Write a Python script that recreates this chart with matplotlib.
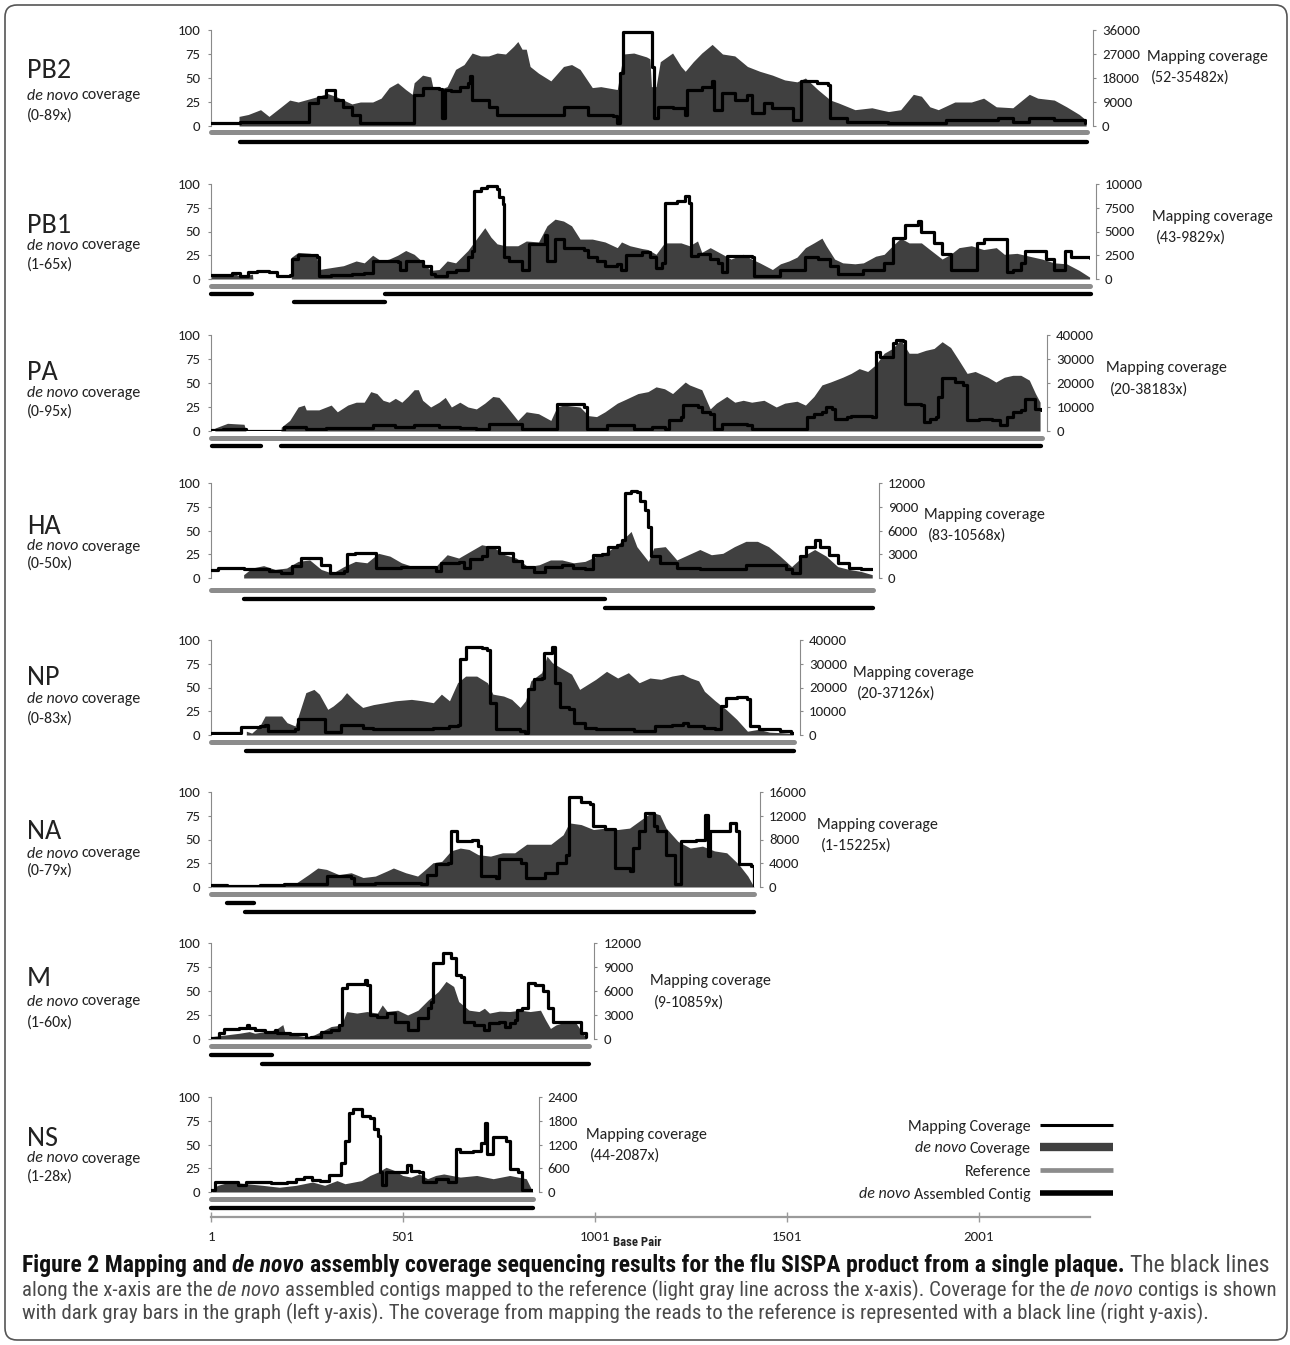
import matplotlib
matplotlib.use("Agg")
import matplotlib.pyplot as plt
from matplotlib import font_manager as fm
from matplotlib.patches import FancyBboxPatch
from matplotlib.lines import Line2D
from matplotlib.transforms import IdentityTransform

# ---------------------------------------------------------------- data
SEGMENTS = ["PB2", "PB1", "PA", "HA", "NP", "NA", "M", "NS"]
SEG_LEN = [2283, 2290, 2164, 1725, 1520, 1416, 985, 840]
DENOVO_RANGE = ["(0-89x)", "(1-65x)", "(0-95x)", "(0-50x)", "(0-83x)", "(0-79x)", "(1-60x)", "(1-28x)"]
MAP_RANGE = ["(52-35482x)", "(43-9829x)", "(20-38183x)", "(83-10568x)", "(20-37126x)",
             "(1-15225x)", "(9-10859x)", "(44-2087x)"]
MAP_MAX = [36000, 10000, 40000, 12000, 40000, 16000, 12000, 2400]
DENOVO_TICKS = [0, 25, 50, 75, 100]
X_TICKS = [1, 501, 1001, 1501, 2001]

# de novo coverage (base pair, coverage x) -- left axis
PB2_DENOVO = [(74,10),(98,12),(130,17),(152,10),(184,20),(206,27),(228,25),(255,28),(282,31),(303,34),(325,31),(346,27),(368,23),(390,25),(422,25),(444,29),(465,40),(487,45),(508,38),(525,33),(530,45),(552,53),(573,51),(579,40),(595,38),(616,41),(638,59),(660,64),(681,76),(703,73),(724,73),(746,76),(768,75),(789,83),(800,88),(811,80),(822,80),(832,62),(854,55),(886,47),(919,62),(940,64),(962,59),(994,40),(1016,41),(1059,38),(1075,75),(1102,76),(1135,72),(1144,70),(1148,41),(1160,41),(1171,67),(1203,76),(1225,62),(1236,57),(1257,67),(1279,76),(1306,85),(1333,75),(1365,73),(1398,62),(1430,57),(1463,53),(1495,48),(1527,46),(1549,50),(1581,38),(1614,27),(1635,24),(1678,17),(1722,19),(1765,15),(1797,17),(1830,33),(1851,31),(1873,20),(1895,17),(1938,25),(1981,25),(2013,29),(2046,20),(2089,19),(2132,33),(2154,29),(2197,27),(2229,20),(2262,12),(2280,6)]
PB1_DENOVO = [(1,3),(33,4),(60,6),(76,3),(109,5),(110,0),(210,0),(211,23),(228,28),(260,27),(276,25),(282,10),(314,12),(346,14),(379,19),(400,17),(422,25),(444,19),(465,21),(487,25),(508,30),(530,26),(552,18),(573,9),(595,10),(616,19),(638,17),(670,30),(692,42),(714,54),(730,44),(746,37),(768,35),(800,35),(822,40),(854,39),(876,56),(897,63),(919,61),(940,56),(962,42),(994,42),(1027,39),(1059,33),(1070,39),(1092,35),(1124,32),(1139,31),(1160,26),(1182,38),(1225,38),(1247,35),(1268,40),(1279,28),(1301,33),(1333,26),(1355,21),(1387,26),(1409,21),(1430,17),(1463,10),(1484,16),(1506,19),(1527,23),(1549,33),(1571,38),(1592,43),(1603,35),(1625,21),(1646,17),(1678,16),(1700,17),(1732,24),(1754,26),(1776,35),(1797,43),(1819,38),(1851,38),(1873,31),(1905,21),(1927,26),(1949,33),(1981,35),(2013,31),(2046,33),(2067,26),(2100,27),(2132,24),(2165,21),(2197,17),(2229,16),(2262,9),(2289,2)]
PA_DENOVO = [(11,3),(44,8),(87,7),(92,0),(183,0),(184,4),(206,11),(228,25),(244,27),(249,22),(282,22),(314,27),(330,20),(357,27),(379,30),(400,30),(417,41),(433,39),(449,32),(465,30),(481,34),(498,30),(514,36),(530,43),(541,43),(552,32),(573,25),(595,30),(611,35),(627,25),(649,30),(670,25),(692,23),(714,29),(735,36),(751,35),(768,27),(800,11),(822,20),(854,18),(886,11),(902,25),(919,27),(962,25),(984,16),(1005,15),(1027,20),(1059,29),(1081,33),(1113,39),(1139,41),(1160,46),(1182,44),(1203,39),(1236,51),(1247,48),(1279,43),(1301,23),(1317,29),(1344,36),(1365,30),(1387,32),(1409,30),(1441,32),(1473,25),(1495,29),(1527,31),(1549,27),(1571,36),(1592,48),(1614,51),(1646,56),(1668,60),(1689,65),(1711,62),(1732,69),(1754,81),(1776,86),(1797,95),(1819,81),(1840,81),(1862,84),(1884,86),(1905,93),(1927,87),(1948,74),(1970,60),(1991,62),(2024,56),(2045,51),(2067,56),(2089,58),(2110,58),(2132,53),(2148,39),(2160,30)]
HA_DENOVO = [(86,3.5),(108,10.5),(138,13),(168,9),(198,10.5),(228,17.5),(258,19),(288,9),(317,5),(347,12),(377,17.5),(407,16),(437,26),(467,23),(497,16),(527,12),(557,10.5),(586,12),(616,24.5),(646,21),(676,28),(706,35),(736,32.6),(766,24.5),(796,21),(826,12),(856,14),(885,19),(915,19),(945,16),(975,17.5),(1005,23),(1035,28),(1065,37),(1095,49),(1110,33),(1140,17.5),(1154,31.6),(1184,33),(1214,19),(1244,24.5),(1274,30),(1304,24.5),(1334,26),(1364,33),(1394,38.6),(1424,38.6),(1453,33),(1483,23),(1513,12),(1543,23),(1573,30),(1603,23),(1633,12),(1663,9),(1693,7),(1723,3.5)]
NP_DENOVO = [(93,4),(107,2),(128,9.5),(142,20),(185,20),(199,13),(220,9.5),(234,27),(248,44.6),(269,48),(283,43),(305,27),(319,30.5),(340,37.5),(354,44.6),(375,36),(396,29),(424,32),(453,34),(481,36),(523,37.5),(552,36),(580,34),(601,43),(622,36),(643,55),(664,62),(693,62),(721,55),(735,43),(763,41),(784,37.5),(806,29),(820,36),(834,57),(862,65.6),(876,83),(890,76),(919,69),(940,64),(961,48),(1003,58.6),(1031,67),(1060,60),(1088,65.6),(1116,55),(1144,60),(1173,58.6),(1201,62),(1229,64),(1250,60),(1271,57),(1286,46),(1314,36),(1342,27),(1370,16.5),(1398,4),(1427,6),(1455,3),(1483,2.5),(1511,1.7),(1518,0)]
NA_DENOVO = [(3,1),(176,3),(224,4.5),(255,13),(279,20),(302,18.5),(334,13),(366,15),(397,10),(429,11.5),(460,17),(476,20),(508,15),(539,11.5),(555,17),(579,25.5),(602,27),(626,38),(650,41),(673,39.5),(697,34),(729,32.5),(760,36),(792,36),(823,45),(855,45),(886,45),(918,55),(934,67.5),(965,65.7),(997,60.5),(1028,62),(1060,60.5),(1091,62),(1115,69),(1139,76),(1154,78),(1170,76),(1186,62),(1217,48),(1249,41),(1281,43),(1312,38),(1344,36),(1375,24),(1399,11.5),(1415,0)]
M_DENOVO = [(1,2.4),(35,4),(75,6),(101,7.7),(115,6),(141,7.7),(168,9.4),(188,15),(194,6),(221,4),(248,2.4),(268,4),(288,7.7),(314,13),(341,14.6),(354,28.6),(381,27),(407,28.6),(434,27),(447,35.5),(460,28.6),(487,30),(513,25),(540,30),(567,40.8),(593,49.5),(613,60),(633,54.7),(646,39),(673,30),(699,28.6),(713,32),(726,27),(752,29),(779,28.6),(806,30),(832,28.6),(859,30),(872,20),(885,11),(899,14.6),(925,18),(952,16.4),(978,0.7)]
NS_DENOVO = [(3,1.7),(18,7),(50,10.5),(93,8.7),(136,7),(179,5),(222,7),(265,10.5),(297,7),(329,12),(350,8.7),(393,12),(415,17.4),(436,21),(457,26),(479,22.6),(500,17.4),(522,15.7),(543,19),(565,14),(586,17.4),(607,19),(650,15.7),(693,17.4),(736,14),(779,17.4),(822,14),(839,0)]

# mapping coverage (base pair, coverage x) -- right axis
PB2_MAP = [(1,1000),(74,1000),(76,1600),(254,1600),(256,8500),(280,11000),(300,13500),(314,13500),(325,9800),(346,7300),(368,4000),(390,1250),(470,1000),(519,1250),(530,11700),(552,14200),(595,14000),(602,3000),(611,13600),(627,13000),(649,14800),(670,16000),(676,18900),(681,9800),(724,7300),(746,4150),(897,4150),(919,7300),(962,7000),(984,4150),(1048,3800),(1059,1260),(1065,20000),(1075,35400),(1144,35300),(1150,22000),(1155,2900),(1166,7300),(1203,6700),(1236,4150),(1241,13600),(1280,14500),(1306,16700),(1311,6000),(1333,12300),(1365,9800),(1398,11700),(1409,4800),(1441,8500),(1463,6700),(1506,6700),(1517,2260),(1538,16700),(1580,16200),(1608,15500),(1614,2900),(1657,1640),(1765,1000),(1916,2260),(2002,2260),(2050,2900),(2089,1500),(2132,2900),(2197,2260),(2278,1000)]
PB1_MAP = [(1,400),(33,400),(55,600),(76,350),(98,700),(120,800),(152,700),(174,350),(206,400),(211,2100),(228,2500),(276,2300),(282,350),(314,450),(368,500),(400,600),(422,1900),(487,1800),(492,900),(508,1900),(530,1900),(552,1400),(573,500),(584,350),(616,700),(638,1000),(670,2300),(681,3000),(687,9300),(703,9600),(719,9800),(746,9500),(751,8600),(762,7900),(764,2300),(778,1900),(811,900),(827,900),(830,3700),(865,3700),(870,4600),(876,1900),(897,4200),(919,3300),(973,3100),(984,2300),(1005,1900),(1027,1400),(1059,1600),(1070,1000),(1081,2500),(1113,2500),(1124,2800),(1143,2300),(1160,1200),(1176,1700),(1182,8000),(1214,8200),(1236,8700),(1247,8000),(1252,2400),(1268,2600),(1301,2100),(1322,1700),(1333,700),(1344,2400),(1409,2300),(1414,350),(1463,350),(1484,900),(1527,1000),(1549,2300),(1581,2100),(1614,1400),(1635,500),(1678,500),(1700,1000),(1732,1000),(1754,1700),(1776,4300),(1792,4300),(1808,5700),(1830,5700),(1841,6100),(1851,4900),(1873,4900),(1884,3800),(1905,2600),(1927,1000),(1981,1000),(1997,3800),(2013,4200),(2067,4200),(2073,700),(2089,900),(2111,1700),(2121,3000),(2165,3000),(2175,2100),(2197,1000),(2218,1000),(2224,3000),(2240,2300),(2289,2200)]
PA_MAP = [(1,500),(11,560),(33,1000),(87,1000),(92,20),(183,20),(190,1700),(249,1000),(300,1200),(379,1400),(422,2400),(480,1700),(530,2400),(595,1700),(649,1400),(692,1000),(719,1000),(724,3100),(800,2800),(811,1000),(897,1000),(902,11400),(940,11100),(973,10000),(979,1000),(1027,1000),(1032,2400),(1092,2400),(1103,1000),(1149,1700),(1182,1000),(1193,4500),(1225,5800),(1230,10700),(1268,10000),(1279,8000),(1301,7200),(1311,1000),(1333,3100),(1398,2400),(1409,1000),(1549,1000),(1554,5800),(1571,7200),(1592,8000),(1603,10000),(1619,9300),(1625,5200),(1657,5800),(1668,6200),(1722,5800),(1733,33000),(1743,31000),(1765,31000),(1776,36500),(1786,38000),(1803,37500),(1808,11400),(1851,11000),(1857,3800),(1873,5200),(1889,5800),(1895,14200),(1905,21900),(1938,20500),(1959,19000),(1970,4500),(2002,5200),(2035,4500),(2056,2400),(2073,5800),(2089,8000),(2110,8600),(2121,13500),(2132,13500),(2148,9300),(2162,8600)]
HA_MAP = [(1,1050),(18,1260),(63,1260),(86,1080),(153,920),(183,640),(213,1560),(235,2520),(258,2520),(288,1680),(310,640),(347,840),(355,3070),(377,3120),(422,3120),(430,1260),(497,1390),(557,1390),(586,840),(601,1920),(646,1980),(661,1260),(676,2400),(706,2760),(721,3910),(751,3120),(788,2100),(811,1440),(841,720),(870,1440),(915,1680),(945,1260),(975,1080),(997,2940),(1020,3000),(1035,3910),(1057,4200),(1072,4800),(1080,10700),(1095,11000),(1110,10900),(1117,9680),(1132,8640),(1140,6480),(1147,2760),(1170,1920),(1214,1260),(1274,1080),(1334,1080),(1394,1680),(1453,1680),(1498,1080),(1513,640),(1536,2760),(1550,3960),(1573,4800),(1588,3960),(1610,2940),(1633,1920),(1663,1260),(1693,1080),(1723,1080)]
NP_MAP = [(1,1000),(72,1000),(79,3500),(128,3800),(142,4100),(149,1700),(185,1700),(220,2400),(227,6600),(262,6800),(290,6600),(297,1200),(326,1200),(340,4100),(382,4100),(396,3100),(424,2400),(467,2600),(523,2400),(580,3100),(622,3800),(643,4400),(650,31800),(664,37000),(693,37100),(707,36500),(721,36000),(728,13600),(742,2400),(806,1700),(820,1000),(827,19200),(841,23400),(862,24000),(869,34700),(890,37100),(897,22000),(911,11600),(933,10800),(947,5200),(975,3100),(1003,2400),(1102,1700),(1158,3800),(1201,4400),(1229,5200),(1243,3800),(1286,3100),(1314,2400),(1328,12200),(1342,15600),(1370,15900),(1398,15000),(1405,3800),(1427,2400),(1483,1700),(1511,1000),(1518,800)]
NA_MAP = [(1,320),(42,160),(129,270),(192,560),(255,560),(302,1840),(366,1570),(373,560),(429,720),(508,720),(547,560),(563,2080),(586,3800),(618,4080),(626,9400),(642,7680),(681,8000),(697,6880),(705,1840),(744,1570),(752,4640),(807,4080),(822,1570),(870,2400),(902,4080),(926,5440),(934,15200),(965,14400),(989,13900),(997,10240),(1028,9840),(1052,3200),(1091,2690),(1099,6560),(1115,9390),(1131,12480),(1154,10240),(1162,9390),(1186,5440),(1210,450),(1225,7680),(1265,8000),(1281,8000),(1288,12160),(1296,5200),(1300,9390),(1344,9390),(1352,10800),(1367,9390),(1375,3800),(1407,3520),(1412,3500),(1415,16)]
M_MAP = [(1,80),(16,50),(22,720),(35,1260),(75,1320),(95,1800),(101,1320),(115,1130),(141,920),(168,1130),(174,720),(208,640),(248,80),(261,290),(288,920),(314,1130),(334,1750),(341,6360),(354,6840),(394,6840),(401,7400),(407,6770),(414,3000),(434,2760),(460,3240),(480,2160),(513,1130),(540,2590),(567,3840),(573,4680),(580,9480),(606,10740),(626,10080),(640,8040),(653,7800),(659,2160),(686,1750),(713,1130),(726,1970),(752,2160),(766,1560),(779,1970),(792,2400),(799,3600),(812,3840),(826,6960),(846,6770),(866,5940),(879,3840),(892,2160),(912,2160),(952,2160),(965,720),(978,290)]
NS_MAP = [(1,44),(12,250),(50,250),(72,170),(93,250),(136,265),(157,240),(179,240),(200,265),(222,335),(243,375),(265,310),(286,290),(307,420),(329,430),(340,745),(350,1300),(361,2000),(372,2087),(393,1920),(415,1870),(425,1580),(436,1420),(440,500),(447,170),(457,500),(500,500),(511,670),(522,540),(543,500),(554,250),(586,340),(618,250),(639,1080),(650,1000),(682,1030),(704,1250),(714,1750),(721,960),(736,1380),(747,1380),(768,1300),(779,575),(800,500),(811,40),(839,40)]

# de novo assembled contigs (start bp, end bp, row)
PB2_CONTIGS = [(76, 2283, 0)]
PB1_CONTIGS = [(1, 109, 0), (217, 454, 1), (454, 2292, 0)]
PA_CONTIGS = [(3, 132, 0), (182, 2162, 0)]
HA_CONTIGS = [(86, 1027, 0), (1027, 1725, 1)]
NP_CONTIGS = [(93, 1518, 0)]
NA_CONTIGS = [(42, 113, 0), (90, 1415, 1)]
M_CONTIGS = [(1, 161, 0), (135, 985, 1)]
NS_CONTIGS = [(1, 839, 0)]

DENOVO = [PB2_DENOVO, PB1_DENOVO, PA_DENOVO, HA_DENOVO, NP_DENOVO, NA_DENOVO, M_DENOVO, NS_DENOVO]
MAPPING = [PB2_MAP, PB1_MAP, PA_MAP, HA_MAP, NP_MAP, NA_MAP, M_MAP, NS_MAP]
CONTIGS = [PB2_CONTIGS, PB1_CONTIGS, PA_CONTIGS, HA_CONTIGS, NP_CONTIGS, NA_CONTIGS, M_CONTIGS, NS_CONTIGS]

# ---------------------------------------------------------------- layout (pixels)
W, H = 1290, 1345
X0 = 211.0            # pixel of base pair 1
PXBP = 0.384          # pixels per base pair
PANEL_TOP = [30, 184, 335, 483, 640, 792, 943, 1097]
PANEL_BOT = [126, 279, 431, 578, 735, 887, 1039, 1192]
REF_Y = [132, 286, 438, 590, 742, 894, 1046, 1199]
ROW_Y = [(142, 150), (294, 302), (446, 454), (599, 608), (751, 759), (903, 912), (1055, 1064), (1208, 1216)]
NAME_Y = [68, 223, 370, 524, 675, 829, 976, 1136]
DN_Y = [94, 244, 391, 545, 697, 852, 1000, 1157]
RNG_Y = [114, 263, 410, 562, 717, 869, 1021, 1175]
MAPLBL = [(1147, 55), (1152, 215), (1106, 367), (924, 513), (853, 671), (817, 823), (650, 980), (586, 1133)]

DARK = "#404040"
REFC = "#8c8c8c"
AXC = "#8a8a8a"
TXT = "#222222"

avail = {f.name for f in fm.fontManager.ttflist}


def pick(*names):
    for n in names:
        if n in avail:
            return n
    return "DejaVu Sans"


SANS = pick("Carlito", "Lato", "Open Sans", "DejaVu Sans")
NARROW = pick("Liberation Sans Narrow", "Roboto Condensed", "Open Sans Condensed", "Roboto", "Lato")

fig = plt.figure(figsize=(W / 100, H / 100), dpi=100)
R = fig.canvas.get_renderer()


def fx(px):
    return px / W


def fy(py):
    return 1 - py / H


def text_w(s, size, family, weight="normal", style="normal"):
    t = fig.text(0, 0, s, fontsize=size, family=family, weight=weight, style=style)
    w = t.get_window_extent(R).width
    t.remove()
    return w


def draw_runs(x, y, runs, size, family, ha="left"):
    sw = text_w("x x", size, family) - text_w("xx", size, family)
    items, total = [], 0.0
    for txt, style, weight, col in runs:
        core = txt.strip()
        lead = (len(txt) - len(txt.lstrip())) * sw
        trail = (len(txt) - len(txt.rstrip())) * sw
        t = fig.text(0, fy(y), core, fontsize=size, family=family, style=style,
                     weight=weight, color=col, va="center_baseline", ha="left")
        w = t.get_window_extent(R).width
        items.append((t, lead, w, trail))
        total += lead + w + trail
    cx = x - total if ha == "right" else x
    for t, lead, w, trail in items:
        cx += lead
        t.set_x(fx(cx))
        cx += w + trail
    return items, total


def fitted_runs(x, y, runs, target, family, base=12.0, size=None):
    if size is None:
        items, total = draw_runs(x, y, runs, base, family)
        for it in items:
            it[0].remove()
        size = base * target / total
    draw_runs(x, y, runs, size, family)
    return size


LBL = 10.0 * 121 / text_w("Mapping coverage", 10, SANS)
NAME = 10.0 * 44 / text_w("PB2", 10, SANS)
TICK = 10.0 * 38 / text_w("36000", 10, SANS)

# ---------------------------------------------------------------- panels
for i, seg in enumerate(SEGMENTS):
    top, bot, L = PANEL_TOP[i], PANEL_BOT[i], SEG_LEN[i]
    ax = fig.add_axes([fx(X0), fy(bot), (L - 1) * PXBP / W, (bot - top) / H])
    ax.set_xlim(1, L)
    ax.set_ylim(0, 100)
    xs = [p[0] for p in DENOVO[i]]
    ys = [p[1] for p in DENOVO[i]]
    ax.fill_between(xs, ys, 0, color=DARK, lw=0, zorder=2)
    for s in ("top", "bottom", "right"):
        ax.spines[s].set_visible(False)
    ax.spines["left"].set_color(AXC)
    ax.spines["left"].set_bounds(0, 100)
    ax.set_xticks([])
    ax.set_yticks(DENOVO_TICKS)
    ax.tick_params(axis="y", length=2.5, width=0.8, color=AXC, pad=5,
                   labelsize=TICK, labelcolor=TXT)
    for lab in ax.get_yticklabels():
        lab.set_family(SANS)
    ax.patch.set_alpha(0)

    unit = (bot - top) / 100.0

    def ydat(py):
        return -(py - bot) / unit

    ax.plot([1, L], [ydat(REF_Y[i])] * 2, color=REFC, lw=3.6,
            solid_capstyle="round", clip_on=False, zorder=3)
    for a, b, r in CONTIGS[i]:
        ax.plot([a, b], [ydat(ROW_Y[i][r])] * 2, color="black", lw=3.1,
                solid_capstyle="round", clip_on=False, zorder=3)

    ax2 = ax.twinx()
    ax2.set_ylim(0, MAP_MAX[i])
    mx = [p[0] for p in MAPPING[i]]
    my = [p[1] for p in MAPPING[i]]
    ax2.plot(mx, my, color="black", lw=2.3, drawstyle="steps-post",
             solid_joinstyle="round", solid_capstyle="round", zorder=4)
    for s in ("top", "bottom", "left"):
        ax2.spines[s].set_visible(False)
    ax2.spines["right"].set_color(AXC)
    ax2.spines["right"].set_bounds(0, MAP_MAX[i])
    ax2.spines["right"].set_position(("outward", 4))
    step = MAP_MAX[i] // 4
    ax2.set_yticks([step * k for k in range(5)])
    ax2.set_yticklabels([str(step * k) for k in range(5)])
    ax2.tick_params(axis="y", length=2.5, width=0.8, color=AXC, pad=4,
                    labelsize=TICK, labelcolor=TXT)
    for lab in ax2.get_yticklabels():
        lab.set_family(SANS)

    # left labels
    fig.text(fx(27), fy(NAME_Y[i]), seg, fontsize=NAME, family=SANS, color=TXT,
             va="center_baseline", ha="left")
    draw_runs(27, DN_Y[i], [("de novo", "italic", "normal", TXT),
                            (" coverage", "normal", "normal", TXT)], LBL, SANS)
    fig.text(fx(27), fy(RNG_Y[i]), DENOVO_RANGE[i], fontsize=LBL, family=SANS,
             color=TXT, va="center_baseline", ha="left")
    # right labels
    mxp, myp = MAPLBL[i]
    fig.text(fx(mxp), fy(myp), "Mapping coverage", fontsize=LBL, family=SANS,
             color=TXT, va="center_baseline", ha="left")
    fig.text(fx(mxp + 4), fy(myp + 21), MAP_RANGE[i], fontsize=LBL, family=SANS,
             color=TXT, va="center_baseline", ha="left")

# ---------------------------------------------------------------- base pair axis
axx = fig.add_axes([fx(X0), fy(1217), (2290 - 1) * PXBP / W, 1.0 / H])
axx.set_xlim(1, 2290)
axx.set_ylim(0, 1)
axx.patch.set_alpha(0)
for s in ("top", "left", "right"):
    axx.spines[s].set_visible(False)
axx.spines["bottom"].set_color("#9a9a9a")
axx.spines["bottom"].set_linewidth(1.6)
axx.set_yticks([])
axx.set_xticks(X_TICKS)
axx.set_xticklabels([str(v) for v in X_TICKS])
axx.tick_params(axis="x", direction="inout", length=7.5, width=1.0, color="#9a9a9a",
                pad=6, labelsize=TICK, labelcolor=TXT)
for lab in axx.get_xticklabels():
    lab.set_family(SANS)
fig.text(fx(637), fy(1243), "Base Pair", fontsize=TICK * 0.85, family=NARROW,
         weight="bold", color=TXT, va="center", ha="center")

# ---------------------------------------------------------------- legend
LEG_Y = [1125, 1147, 1170, 1193]
LEG_RUNS = [[("Mapping Coverage", "normal", "normal", TXT)],
            [("de novo", "italic", "normal", TXT), (" Coverage", "normal", "normal", TXT)],
            [("Reference", "normal", "normal", TXT)],
            [("de novo", "italic", "normal", TXT), (" Assembled Contig", "normal", "normal", TXT)]]
LEG_STYLE = [("black", 2.2), (DARK, 6.0), (REFC, 3.4), ("black", 4.0)]
for y, runs, (c, lw) in zip(LEG_Y, LEG_RUNS, LEG_STYLE):
    draw_runs(1031, y, runs, LBL, SANS, ha="right")
    fig.add_artist(Line2D([fx(1040), fx(1113)], [fy(y), fy(y)], color=c, lw=lw,
                          solid_capstyle="butt", transform=fig.transFigure))

# ---------------------------------------------------------------- caption
B = "#111111"
G = "#4a4a4a"
CAP1 = [("Figure 2 Mapping and ", "normal", "bold", B), ("de novo", "italic", "bold", B),
        (" assembly coverage sequencing results for the flu SISPA product from a single plaque.",
         "normal", "bold", B),
        (" The black lines", "normal", "normal", G)]
CAP2 = [("along the x-axis are the ", "normal", "normal", G), ("de novo", "italic", "normal", G),
        (" assembled contigs mapped to the reference (light gray line across the x-axis). Coverage for the ",
         "normal", "normal", G),
        ("de novo", "italic", "normal", G), (" contigs is shown", "normal", "normal", G)]
CAP3 = [("with dark gray bars in the graph (left y-axis). The coverage from mapping the reads to the "
         "reference is represented with a black line (right y-axis).", "normal", "normal", G)]
s2 = fitted_runs(22, 1288, CAP2, 1253, NARROW)
fitted_runs(22, 1263, CAP1, 1246, NARROW)
fitted_runs(22, 1311, CAP3, 0, NARROW, size=s2)

# ---------------------------------------------------------------- border
fig.add_artist(FancyBboxPatch((5, H - 1340), 1282, 1335,
                              boxstyle="round,pad=0,rounding_size=12",
                              transform=IdentityTransform(), fill=False,
                              edgecolor="#555555", lw=1.2))

fig.savefig("out.png", dpi=100)
